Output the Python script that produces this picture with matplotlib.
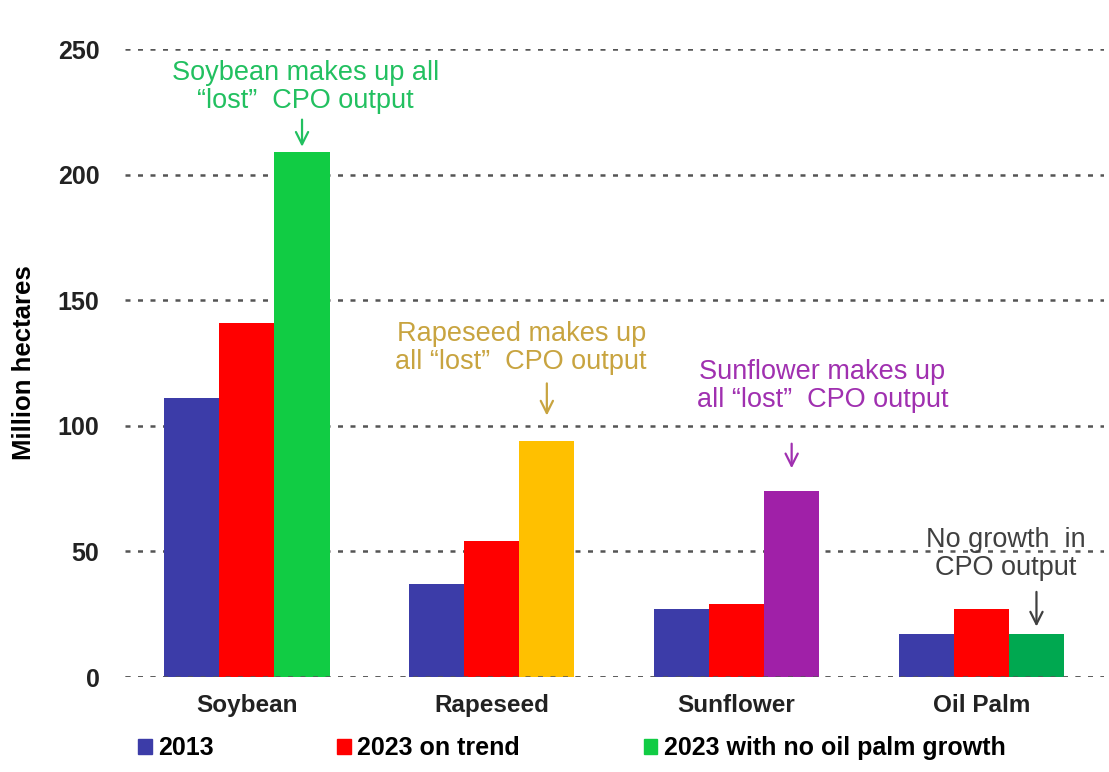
import matplotlib
matplotlib.use("Agg")
import matplotlib.pyplot as plt
import numpy as np
from matplotlib.patches import Patch

plt.rcParams["font.family"] = ["Liberation Sans", "DejaVu Sans"]

# ─── Data ─────────────────────────────────────────────────────────────────────
crops = ["Soybean", "Rapeseed", "Sunflower", "Oil Palm"]
area_2013 = [111, 37, 27, 17]
area_2023_trend = [141, 54, 29, 27]
area_2023_no_palm = [209, 94, 74, 17]
third_colors = ["#11cc44", "#ffc000", "#a020a8", "#00a850"]
legend_labels = ["2013", "2023 on trend", "2023 with no oil palm growth"]

notes = [
    ("Soybean makes up all\n\u201clost\u201d  CPO output", "#22c060"),
    ("Rapeseed makes up\nall \u201clost\u201d  CPO output", "#c8a440"),
    ("Sunflower makes up\nall \u201clost\u201d  CPO output", "#a030b0"),
    ("No growth  in\nCPO output", "#404040"),
]
# text centre (x offset from category, y) and arrow start / end heights
note_x_off = [0.24, 0.12, 0.35, 0.10]
note_text_y = [235, 131, 116, 49]
arrow_from = [223, 118, 94, 35]
arrow_to = [210, 103, 82, 19]

# ─── Figure ───────────────────────────────────────────────────────────────────
fig = plt.figure(figsize=(11.09, 7.72), dpi=100)
ax = fig.add_axes([0.1123, 0.123, 0.883, 0.8135])

x = np.arange(len(crops))
w = 0.225
ax.bar(x - w, area_2013, w, color="#3c3ca8", zorder=3)
ax.bar(x, area_2023_trend, w, color="#ff0000", zorder=3)
ax.bar(x + w, area_2023_no_palm, w, color=third_colors, zorder=3)

ax.set_xlim(-0.5, 3.5)
ax.set_ylim(0, 250)
ax.set_yticks([0, 50, 100, 150, 200, 250])
ax.yaxis.grid(True, linestyle=(0, (2, 3)), color="#555555", linewidth=1.8, zorder=0)
ax.axhline(0, linestyle=(0, (2, 3)), color="#555555", linewidth=1.8, zorder=4)
for s in ax.spines.values():
    s.set_visible(False)
ax.tick_params(axis="both", length=0)
ax.tick_params(axis="x", labelsize=17.5, pad=12)
ax.tick_params(axis="y", labelsize=18, pad=18)
ax.set_xticks(x)
ax.set_xticklabels(crops, fontweight="bold", color="#222222")
for lab in ax.get_yticklabels():
    lab.set_fontweight("bold")
    lab.set_color("#222222")
ax.set_ylabel("Million hectares", fontweight="bold", fontsize=18.5, labelpad=16)

# ─── Annotations ──────────────────────────────────────────────────────────────
for i, ((txt, col), ty, off, a0, a1) in enumerate(
        zip(notes, note_text_y, note_x_off, arrow_from, arrow_to)):
    ax.text(i + off, ty, txt, ha="center", va="center", color=col,
            fontsize=19.5, linespacing=1.1, zorder=5)
    ax.annotate("", xy=(i + w, a1), xytext=(i + w, a0),
                arrowprops=dict(arrowstyle="->", color=col, lw=1.6,
                                mutation_scale=22), zorder=5)

# ─── Legend ───────────────────────────────────────────────────────────────────
handle_colors = ["#3c3ca8", "#ff0000", "#11cc44"]
legend_x = [0.113, 0.293, 0.569]
for col, lab, lx in zip(handle_colors, legend_labels, legend_x):
    fig.legend([Patch(color=col)], [lab], loc="center left",
               bbox_to_anchor=(lx, 0.031), frameon=False, borderpad=0,
               handlelength=0.55, handleheight=0.55, handletextpad=0.25,
               prop={"weight": "bold", "size": 18})

plt.savefig("out.png", dpi=100)
plt.close()
